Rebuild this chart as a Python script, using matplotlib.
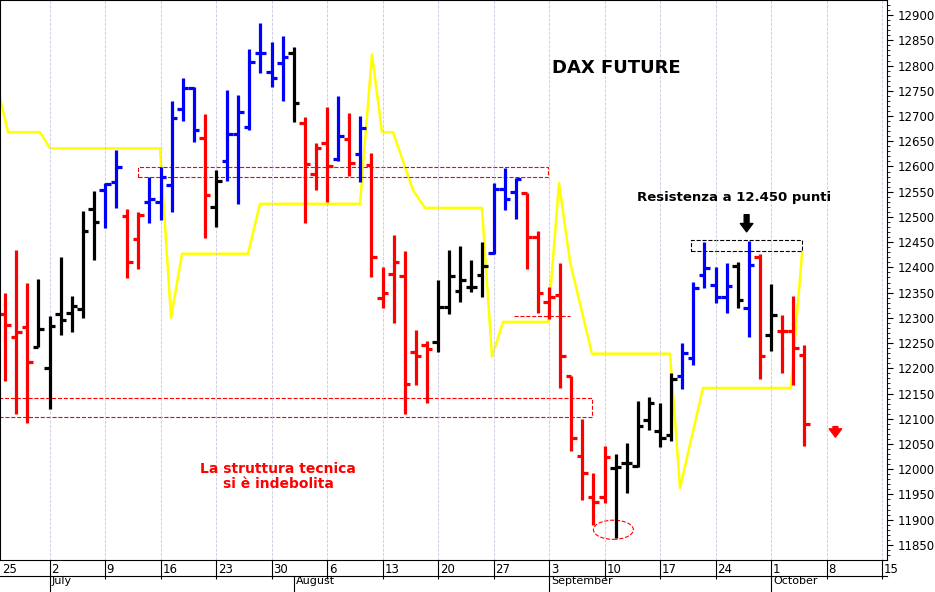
import matplotlib
matplotlib.use("Agg")
import matplotlib.pyplot as plt
from matplotlib.patches import Rectangle, Ellipse
from matplotlib.transforms import blended_transform_factory

# trading-day index, 0 = 25 June
days = list(range(1, 74))
highs = [12349, 12434, 12369, 12377, 12304, 12421, 12343, 12512, 12551, 12567, 12633, 12516, 12510,
         12579, 12599, 12730, 12775, 12757, 12704, 12593, 12751, 12741, 12833, 12884, 12846, 12858, 12837,
         12698, 12646, 12718, 12740, 12706, 12700, 12627, 12401, 12464, 12432, 12276, 12254, 12375,
         12434, 12442, 12415, 12450, 12567, 12597, 12577, 12547, 12472, 12361, 12409, 12185, 12100,
         11993, 12046, 12030, 12052, 12135, 12143, 12131, 12191, 12250, 12371, 12450, 12401, 12409,
         12411, 12452, 12426, 12367, 12306, 12343, 12246]
lows = [12175, 12110, 12092, 12242, 12120, 12266, 12272, 12300, 12415, 12478, 12518, 12379, 12397,
        12488, 12494, 12510, 12690, 12648, 12458, 12480, 12571, 12526, 12672, 12785, 12757, 12730, 12688,
        12488, 12553, 12530, 12611, 12581, 12569, 12381, 12320, 12290, 12110, 12167, 12131, 12232,
        12308, 12331, 12351, 12341, 12426, 12514, 12496, 12397, 12310, 12298, 12161, 12036, 11939,
        11890, 11933, 11864, 11953, 12004, 12078, 12044, 12056, 12159, 12207, 12359, 12330, 12310,
        12320, 12262, 12179, 12234, 12191, 12167, 12046]
opens = [12308, 12262, 12282, 12242, 12201, 12308, 12310, 12318, 12516, 12553, 12569, 12502, 12456,
         12530, 12530, 12563, 12714, 12755, 12656, 12520, 12611, 12664, 12678, 12825, 12787, 12805, 12825,
         12686, 12585, 12646, 12615, 12654, 12625, 12603, 12339, 12387, 12383, 12232, 12246, 12252,
         12322, 12353, 12361, 12385, 12428, 12555, 12549, 12547, 12460, 12331, 12345, 12185, 12026,
         11945, 11945, 12002, 12012, 12006, 12098, 12076, 12068, 12185, 12221, 12385, 12365, 12341,
         12403, 12320, 12421, 12266, 12274, 12274, 12226]
closes = [12286, 12272, 12213, 12278, 12284, 12296, 12324, 12472, 12490, 12565, 12599, 12411, 12504,
          12535, 12579, 12696, 12755, 12672, 12543, 12571, 12664, 12708, 12807, 12825, 12775, 12817, 12726,
          12605, 12636, 12601, 12660, 12607, 12676, 12421, 12349, 12411, 12169, 12224, 12238, 12322,
          12383, 12375, 12361, 12403, 12555, 12535, 12575, 12460, 12349, 12341, 12224, 12062, 11993,
          11935, 12024, 12004, 12012, 12086, 12131, 12062, 12179, 12230, 12359, 12399, 12341, 12363,
          12335, 12405, 12224, 12306, 12274, 12240, 12090]
colors = ["r", "r", "r", "k", "k", "k", "k", "k", "k", "b", "b", "r", "r",
          "b", "b", "b", "b", "b", "r", "k", "b", "b", "b", "b", "b", "b", "k",
          "r", "r", "r", "b", "r", "b", "r", "r", "r", "r", "r", "r", "k",
          "k", "k", "k", "k", "b", "b", "b", "r", "r", "r", "r", "r", "r",
          "r", "r", "k", "k", "k", "k", "k", "k", "b", "b", "b", "b", "b",
          "k", "b", "r", "k", "r", "r", "r"]

# yellow indicator line
yel_x = [0.5, 1.26, 4.14, 5.05, 14.95, 15.95, 16.94, 22.88, 23.96, 32.97, 34.05, 34.95, 35.95, 37.75,
         38.83, 43.96, 44.86, 45.86, 49.91, 50.9, 51.89, 53.87, 60.9, 61.8, 63.87, 71.8, 72.8]
yel_y = [12739, 12668, 12668, 12636, 12636, 12300, 12427, 12427, 12526, 12526, 12822, 12668, 12668,
         12553, 12518, 12518, 12223, 12292, 12292, 12567, 12411, 12229, 12229, 11963, 12161, 12161, 12430]

week_idx = list(range(0, 81, 5))
week_lbl = ["25", "2", "9", "16", "23", "30", "6", "13", "20", "27", "3", "10", "17", "24", "1", "8", "15"]
month_idx = [5, 27, 50, 70]
month_lbl = ["July", "August", "September", "October"]
x_lo, x_hi = 0.54, 80.45

fig = plt.figure(figsize=(9.35, 5.92), dpi=100)
ax = fig.add_axes([0, 0.054, 0.9487, 0.946])

for d, h, l, o, c, col in zip(days, highs, lows, opens, closes, colors):
    ax.plot([d, d], [l, h], color=col, lw=2.3, solid_capstyle="butt")
    ax.plot([d - 0.5, d], [o, o], color=col, lw=2.3, solid_capstyle="butt")
    ax.plot([d, d + 0.5], [c, c], color=col, lw=2.3, solid_capstyle="butt")

ax.plot(yel_x, yel_y, color="#ffff00", lw=1.8, zorder=1)

# dashed zones
ax.add_patch(Rectangle((12.97, 12579), 36.9, 20, fill=False, ec="red", ls="--", lw=0.8))
ax.add_patch(Rectangle((-1, 12104), 54.9, 37, fill=False, ec="red", ls="--", lw=0.8))
ax.plot([46.8, 51.9], [12304, 12304], color="red", ls="--", lw=0.8)
ax.add_patch(Rectangle((62.8, 12432), 10.0, 22, fill=False, ec="black", ls="--", lw=0.8))
ax.add_patch(Ellipse((55.8, 11880), 3.6, 38, fill=False, ec="red", ls="--", lw=0.8))

ax.text(56.1, 12795, "DAX FUTURE", fontsize=13, fontweight="bold", ha="center", va="center")
ax.text(66.7, 12538, "Resistenza a 12.450 punti", fontsize=9.5, fontweight="bold", ha="center", va="center")
ax.annotate("", xy=(67.8, 12465), xytext=(67.8, 12510),
            arrowprops=dict(arrowstyle="simple,head_width=0.9,head_length=0.6,tail_width=0.35", color="black"))
ax.annotate("", xy=(75.8, 12058), xytext=(75.8, 12090),
            arrowprops=dict(arrowstyle="simple,head_width=0.9,head_length=0.6,tail_width=0.35", color="red"))
ax.text(25.6, 11985, "La struttura tecnica\nsi è indebolita", fontsize=10, fontweight="bold",
        color="red", ha="center", va="center", linespacing=1.1)

ax.yaxis.tick_right()
ax.set_yticks(range(11850, 12901, 50))
ax.set_yticks(range(11830, 12930, 10), minor=True)
ax.tick_params(axis="y", labelsize=8.5, length=4, direction="out")
ax.tick_params(axis="y", which="minor", length=2)
ax.set_xticks(week_idx)
ax.set_xticklabels([])
ax.tick_params(axis="x", length=14, direction="out")
ax.grid(axis="x", color="#c8c8e0", ls="--", lw=0.6)

trans = blended_transform_factory(ax.transData, ax.transAxes)
for i, lb in zip(week_idx, week_lbl):
    ax.text(max(i, x_lo) + 0.15, -0.006, lb, transform=trans, fontsize=8.5, va="top", ha="left")
for i, lb in zip(month_idx, month_lbl):
    ax.plot([i, i], [-0.028, -0.06], transform=trans, color="black", lw=0.8, clip_on=False)
    ax.text(i + 0.2, -0.029, lb, transform=trans, fontsize=8, va="top", ha="left")
ax.plot([0, 1], [-0.028, -0.028], transform=ax.transAxes, color="black", lw=0.8, clip_on=False)

ax.set_xlim(x_lo, x_hi)
ax.set_ylim(11820, 12930)

fig.savefig("out.png", dpi=100)
